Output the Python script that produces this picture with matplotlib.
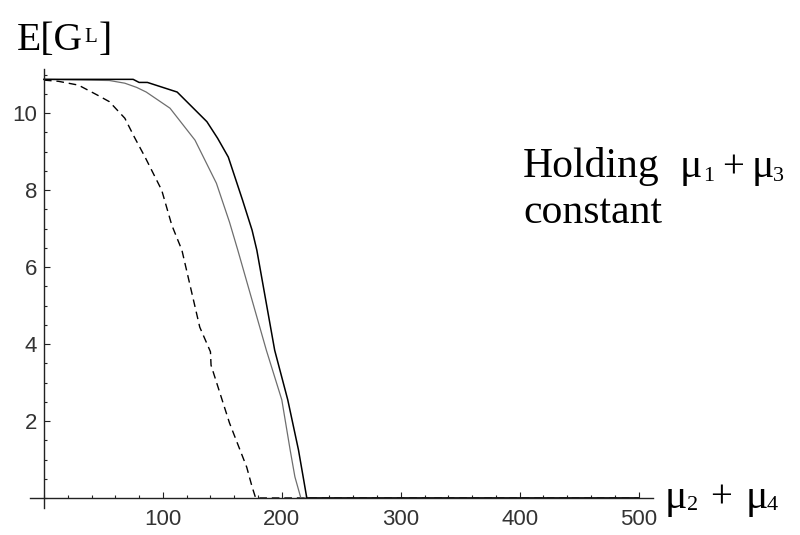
import matplotlib
matplotlib.use('Agg')
import matplotlib.pyplot as plt
from matplotlib.ticker import FixedLocator, MultipleLocator

# Expected number of links E[G^L] against mu2 + mu4 (mu1 + mu3 held fixed)
black_x = [0, 75, 80, 87, 112, 137, 146, 155, 167, 175, 179, 194, 205, 214, 218.5, 221, 500]
black_y = [10.88, 10.88, 10.8, 10.8, 10.55, 9.78, 9.35, 8.86, 7.74, 6.96, 6.44, 3.84, 2.55, 1.25, 0.45, 0, 0]

gray_x = [0, 55, 68, 78, 86, 106, 127, 145, 156, 163, 187, 200, 207, 211, 216, 500]
gray_y = [10.88, 10.85, 10.78, 10.67, 10.55, 10.13, 9.3, 8.18, 7.17, 6.44, 3.84, 2.55, 1.25, 0.55, 0, 0]

dash_x = [0, 12, 29, 45, 55, 68, 76, 85, 99, 107.5, 116, 131, 140, 140.5, 156, 170.5, 175, 178, 500]
dash_y = [10.86, 10.83, 10.73, 10.47, 10.3, 9.87, 9.38, 8.86, 8.0, 7.09, 6.44, 4.44, 3.8, 3.45, 1.95, 0.8, 0.29, 0, 0]

x_ticks = [100, 200, 300, 400, 500]
y_ticks = [2, 4, 6, 8, 10]

W, H = 800, 535
fig = plt.figure(figsize=(W / 100, H / 100), dpi=100)
ax = fig.add_axes([0.0371, 0.0505, 0.779, 0.8206])

ax.plot(dash_x, dash_y, color='black', lw=1.0, dashes=(5.5, 3.5))
ax.plot(gray_x, gray_y, color='#6e6e6e', lw=0.9)
ax.plot(black_x, black_y, color='black', lw=1.1)

ax.set_xlim(-12, 512)
ax.set_ylim(-0.26, 11.15)

# axes cross at the origin, no box
for side in ['top', 'right']:
    ax.spines[side].set_visible(False)
for side in ['left', 'bottom']:
    ax.spines[side].set_position(('data', 0))
    ax.spines[side].set_color('#222222')
    ax.spines[side].set_linewidth(1.0)

ax.xaxis.set_major_locator(FixedLocator(x_ticks))
ax.xaxis.set_minor_locator(MultipleLocator(20))
ax.yaxis.set_major_locator(FixedLocator(y_ticks))
ax.yaxis.set_minor_locator(MultipleLocator(0.5))
ax.tick_params(which='both', direction='in', color='#222222', width=0.8)
ax.tick_params(which='major', length=4.3)
ax.tick_params(which='minor', length=2.2)
ax.tick_params(axis='x', which='major', pad=8)
ax.tick_params(axis='y', which='major', pad=5)
for lab in ax.get_xticklabels() + ax.get_yticklabels():
    lab.set_fontfamily('Liberation Sans')
    lab.set_fontsize(16)
    lab.set_color('#333333')


def put(s, x, y, size, **kw):
    # place text by pixel position (x from left, y = baseline from top)
    fig.text(x / W, 1 - y / H, s, fontsize=size, family='Liberation Serif',
             va='baseline', ha='left', color='black', **kw)


# y-axis title E[G^L]
put('E[G', 17, 50, 28.5)
put('L', 84, 42, 15)
put(']', 99, 50, 28.5)

# annotation
put('Holding', 523, 177, 30)
put('\u03bc', 680, 177, 30)
put('1', 703, 181, 16)
put('+', 722, 177, 28)
put('\u03bc', 752, 177, 30)
put('3', 773, 181, 16)
put('constant', 523, 223, 30)

# x-axis title mu2 + mu4
put('\u03bc', 665, 508, 30)
put('2', 687, 510, 16)
put('+', 710, 508, 28)
put('\u03bc', 746, 508, 30)
put('4', 767, 510, 16)

fig.savefig('out.png', dpi=100)
